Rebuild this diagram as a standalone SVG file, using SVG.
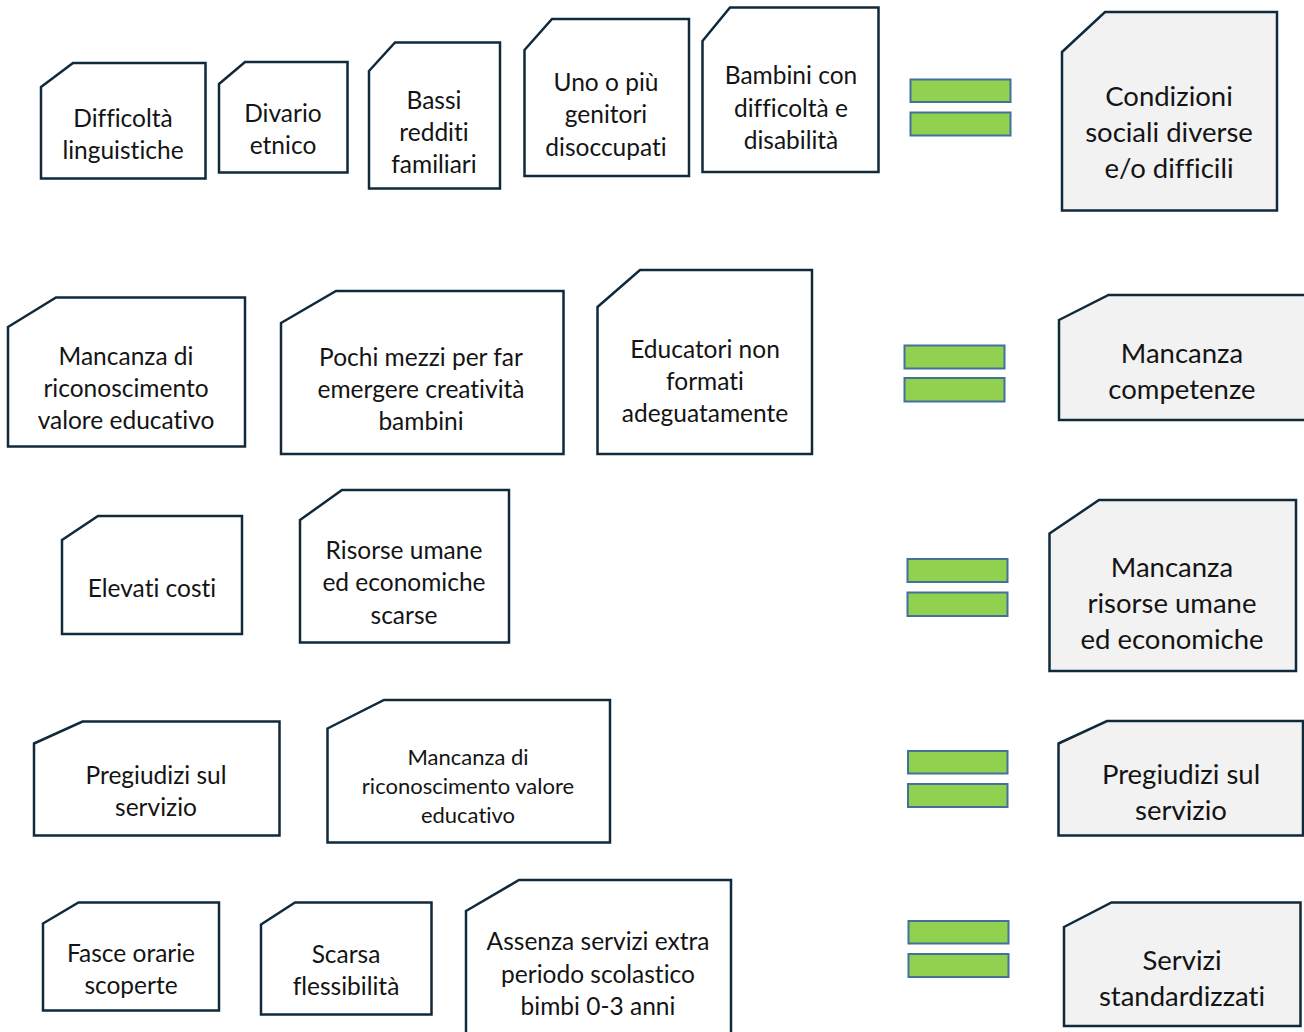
<svg xmlns="http://www.w3.org/2000/svg" width="1304" height="1032" viewBox="0 0 1304 1032">
<style>
.box{fill:#ffffff;stroke:#10293b;stroke-width:2.5;stroke-linejoin:miter}
.res{fill:#f2f2f2;stroke:#10293b;stroke-width:2.5;stroke-linejoin:miter}
.eq{fill:#92d050;stroke:#41719c;stroke-width:2}
text{font-family:Lato,"Open Sans","Liberation Sans",sans-serif;fill:#141414;text-anchor:middle;font-variant-ligatures:none;font-feature-settings:"liga" 0,"clig" 0,"dlig" 0}
.t{font-size:24.5px}
.s{font-size:22px}
.r{font-size:27.5px}
</style>
<rect x="0" y="0" width="1304" height="1032" fill="#ffffff"/>
<g id="connectors"></g>

<!-- Row 1 -->
<g id="n1"><path class="box" d="M41,87 L73,63 L205.5,63 L205.5,178.5 L41,178.5 Z"/>
<text class="t" x="123" y="127">Difficoltà</text><text class="t" x="123" y="159">linguistiche</text></g>
<g id="n2"><path class="box" d="M219,84 L245,62 L347.5,62 L347.5,172.5 L219,172.5 Z"/>
<text class="t" x="283" y="122">Divario</text><text class="t" x="283" y="154">etnico</text></g>
<g id="n3"><path class="box" d="M369,71 L395,42.5 L500,42.5 L500,188.5 L369,188.5 Z"/>
<text class="t" x="434" y="109">Bassi</text><text class="t" x="434" y="141">redditi</text><text class="t" x="434" y="173">familiari</text></g>
<g id="n4"><path class="box" d="M524.5,50 L552,19 L689,19 L689,176 L524.5,176 Z"/>
<text class="t" x="606" y="91">Uno o più</text><text class="t" x="606" y="123">genitori</text><text class="t" x="606" y="156">disoccupati</text></g>
<g id="n5"><path class="box" d="M702.5,41 L730,7.5 L878.5,7.5 L878.5,172 L702.5,172 Z"/>
<text class="t" x="791" y="84">Bambini con</text><text class="t" x="791" y="117">difficoltà e</text><text class="t" x="791" y="149">disabilità</text></g>
<g id="eq1"><rect class="eq" x="910.5" y="79.5" width="100" height="22.5"/><rect class="eq" x="910.5" y="112.5" width="100" height="23"/></g>
<g id="r1"><path class="res" d="M1062,52 L1105,12 L1277,12 L1277,210.5 L1062,210.5 Z"/>
<text class="r" x="1169" y="106">Condizioni</text><text class="r" x="1169" y="142">sociali diverse</text><text class="r" x="1169" y="178">e/o difficili</text></g>

<!-- Row 2 -->
<g id="n6"><path class="box" d="M8,327 L56,297.5 L245,297.5 L245,446.5 L8,446.5 Z"/>
<text class="t" x="126" y="365">Mancanza di</text><text class="t" x="126" y="397">riconoscimento</text><text class="t" x="126" y="429">valore educativo</text></g>
<g id="n7"><path class="box" d="M281,323 L336,291 L563.5,291 L563.5,454 L281,454 Z"/>
<text class="t" x="421" y="366">Pochi mezzi per far</text><text class="t" x="421" y="398">emergere creatività</text><text class="t" x="421" y="430">bambini</text></g>
<g id="n8"><path class="box" d="M597.5,307 L640,270 L812,270 L812,454 L597.5,454 Z"/>
<text class="t" x="705" y="358">Educatori non</text><text class="t" x="705" y="390">formati</text><text class="t" x="705" y="422">adeguatamente</text></g>
<g id="eq2"><rect class="eq" x="904.5" y="345.5" width="100" height="23"/><rect class="eq" x="904.5" y="378" width="100" height="23.5"/></g>
<g id="r2"><path class="res" d="M1059,320 L1108.5,295 L1310,295 L1310,420 L1059,420 Z"/>
<text class="r" x="1182" y="363">Mancanza</text><text class="r" x="1182" y="399">competenze</text></g>

<!-- Row 3 -->
<g id="n9"><path class="box" d="M62,540 L98,516 L242,516 L242,634 L62,634 Z"/>
<text class="t" x="152" y="597">Elevati costi</text></g>
<g id="n10"><path class="box" d="M300,520 L342,490 L509,490 L509,642.5 L300,642.5 Z"/>
<text class="t" x="404" y="559">Risorse umane</text><text class="t" x="404" y="591">ed economiche</text><text class="t" x="404" y="624">scarse</text></g>
<g id="eq3"><rect class="eq" x="907.5" y="559" width="100" height="23"/><rect class="eq" x="907.5" y="592.5" width="100" height="23.5"/></g>
<g id="r3"><path class="res" d="M1049.5,533.5 L1099,500 L1296,500 L1296,671 L1049.5,671 Z"/>
<text class="r" x="1172" y="577">Mancanza</text><text class="r" x="1172" y="613">risorse umane</text><text class="r" x="1172" y="649">ed economiche</text></g>

<!-- Row 4 -->
<g id="n11"><path class="box" d="M34,743.5 L82.5,721.5 L279.5,721.5 L279.5,835.5 L34,835.5 Z"/>
<text class="t" x="156" y="784">Pregiudizi sul</text><text class="t" x="156" y="816">servizio</text></g>
<g id="n12"><path class="box" d="M327.5,728.5 L384,700 L610,700 L610,842.5 L327.5,842.5 Z"/>
<text class="s" x="468" y="765">Mancanza di</text><text class="s" x="468" y="794">riconoscimento valore</text><text class="s" x="468" y="823">educativo</text></g>
<g id="eq4"><rect class="eq" x="908" y="751" width="99.5" height="22.5"/><rect class="eq" x="908" y="784" width="99.5" height="23"/></g>
<g id="r4"><path class="res" d="M1058.5,743.5 L1107,721 L1303,721 L1303,835.5 L1058.5,835.5 Z"/>
<text class="r" x="1181" y="784">Pregiudizi sul</text><text class="r" x="1181" y="820">servizio</text></g>

<!-- Row 5 -->
<g id="n13"><path class="box" d="M43,923.5 L78.5,902.5 L219,902.5 L219,1010.5 L43,1010.5 Z"/>
<text class="t" x="131" y="962">Fasce orarie</text><text class="t" x="131" y="994">scoperte</text></g>
<g id="n14"><path class="box" d="M261,924.5 L295,902.5 L431.5,902.5 L431.5,1014.5 L261,1014.5 Z"/>
<text class="t" x="346" y="963">Scarsa</text><text class="t" x="346" y="995">flessibilità</text></g>
<g id="n15"><path class="box" d="M466,911 L519,880 L731,880 L731,1040 L466,1040 Z"/>
<text class="t" x="598" y="950">Assenza servizi extra</text><text class="t" x="598" y="983">periodo scolastico</text><text class="t" x="598" y="1015">bimbi 0-3 anni</text></g>
<g id="eq5"><rect class="eq" x="908.5" y="921" width="100" height="22.5"/><rect class="eq" x="908.5" y="954" width="100" height="23"/></g>
<g id="r5"><path class="res" d="M1064,927 L1111.5,902.5 L1300.5,902.5 L1300.5,1026 L1064,1026 Z"/>
<text class="r" x="1182" y="970">Servizi</text><text class="r" x="1182" y="1006">standardizzati</text></g>
</svg>
